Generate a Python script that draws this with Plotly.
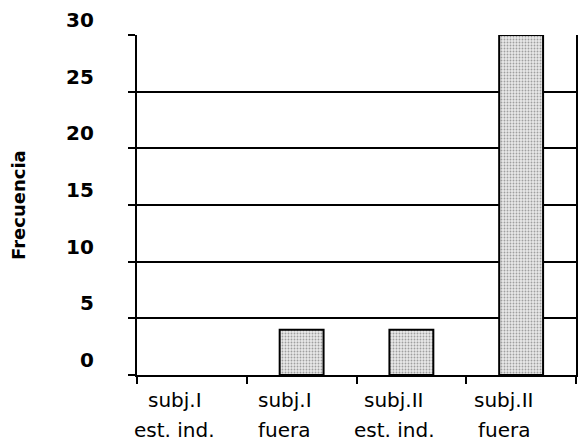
import plotly.graph_objects as go

categories_line1 = ["subj.I", "subj.I", "subj.II", "subj.II"]
categories_line2 = ["est. ind.", "fuera", "est. ind.", "fuera"]
frecuencia = [0, 4, 4, 30]
y_ticks = [0, 5, 10, 15, 20, 25, 30]
y_title = "Frecuencia"

x_pos = list(range(len(frecuencia)))

fig = go.Figure()
fig.add_trace(go.Bar(
    x=x_pos, y=frecuencia, width=0.4,
    marker=dict(
        color="white",
        line=dict(color="black", width=[0 if v == 0 else 2 for v in frecuencia]),
        pattern=dict(shape=".", fgcolor="#555555", bgcolor="#e8e8e8", size=3, solidity=0.3),
    ),
    cliponaxis=False,
))

annotations = []
for v in y_ticks:
    annotations.append(dict(
        x=0, xref="paper", y=v, yref="y", text=str(v), showarrow=False,
        xanchor="right", yanchor="middle", xshift=-41, yshift=15,
        font=dict(family="DejaVu Sans", size=20, color="black", weight="bold"),
    ))
for i, (l1, l2) in enumerate(zip(categories_line1, categories_line2)):
    annotations.append(dict(
        x=i, xref="x", y=0, yref="paper", text=l1, showarrow=False,
        xanchor="center", yanchor="middle", xshift=-17, yshift=-25,
        font=dict(family="DejaVu Sans", size=20, color="black"),
    ))
    annotations.append(dict(
        x=i, xref="x", y=0, yref="paper", text=l2, showarrow=False,
        xanchor="center", yanchor="middle", xshift=-17, yshift=-55,
        font=dict(family="DejaVu Sans", size=20, color="black"),
    ))
annotations.append(dict(
    x=0, xref="paper", y=0.5, yref="paper", text=y_title, showarrow=False,
    textangle=-90, xanchor="center", yanchor="middle", xshift=-119,
    font=dict(family="DejaVu Sans", size=18, color="black", weight="bold"),
))

fig.update_layout(
    width=581, height=441,
    margin=dict(l=137, r=3, t=35, b=66),
    paper_bgcolor="white", plot_bgcolor="white",
    showlegend=False,
    annotations=annotations,
    xaxis=dict(
        range=[-0.5, 3.5], tickvals=[-0.5, 0.5, 1.5, 2.5, 3.5], showticklabels=False,
        ticks="outside", ticklen=7, tickwidth=2, tickcolor="black",
        showgrid=False, zeroline=False,
        showline=True, linecolor="black", linewidth=2,
    ),
    yaxis=dict(
        range=[0, 30], tickvals=y_ticks, showticklabels=False,
        ticks="outside", ticklen=7, tickwidth=2, tickcolor="black",
        showgrid=True, gridcolor="black", gridwidth=2,
        zeroline=False,
        showline=True, linecolor="black", linewidth=2,
        mirror=True,
    ),
)

fig.write_html(
    "out.html",
    config={"displayModeBar": False},
    post_script="document.body.style.margin='0';document.body.style.overflow='hidden';",
)
